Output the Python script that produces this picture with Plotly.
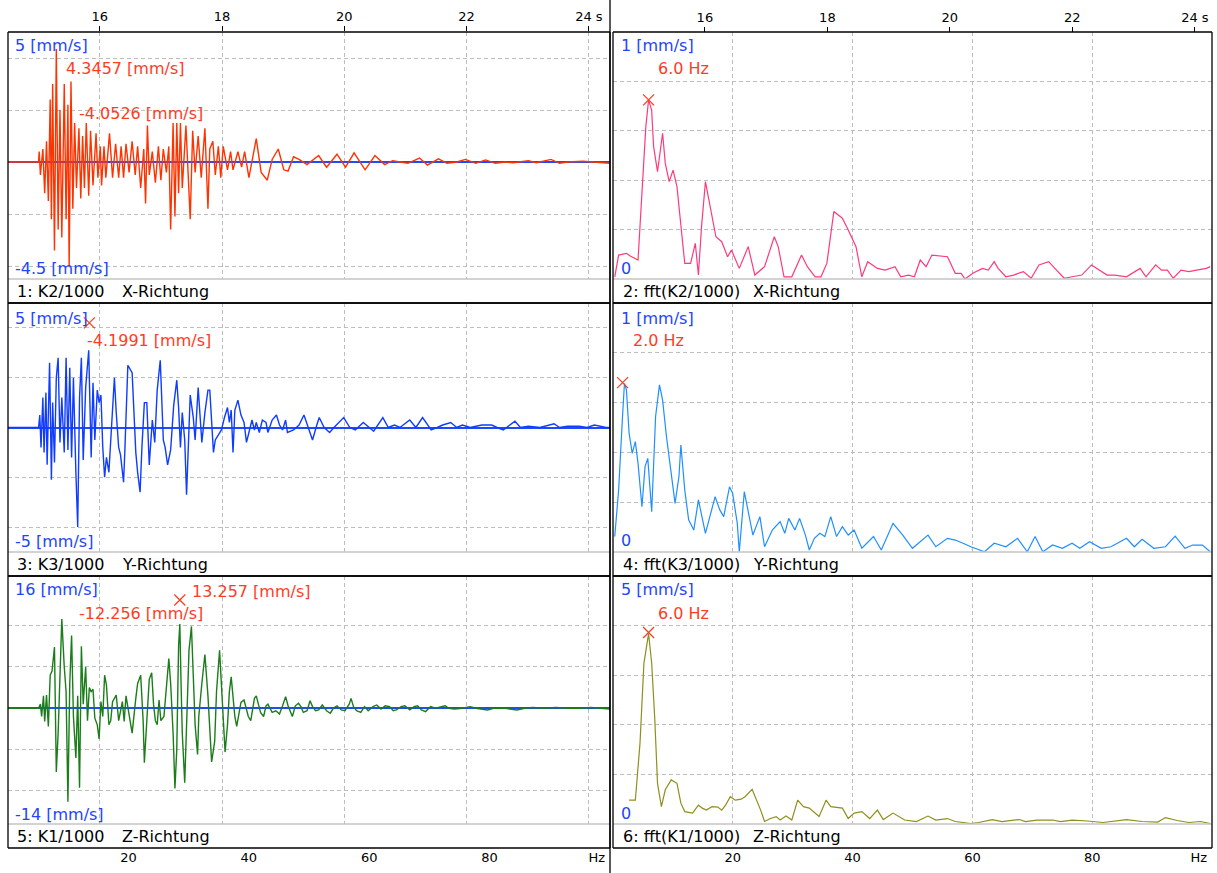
import plotly.graph_objects as go

W, H = 1217, 873
FONT = "DejaVu Sans"

# ---------------- data ----------------
# Panel 1: K2/1000 X-Richtung (time, s ; mm/s)
x_t = [14.50, 15.00, 15.01, 15.03, 15.07, 15.10, 15.13, 15.16, 15.19, 15.21, 15.23, 15.26, 15.29, 15.32,
       15.35, 15.38, 15.42, 15.45, 15.48, 15.50, 15.53, 15.56, 15.59, 15.62, 15.66, 15.69, 15.72, 15.75,
       15.78, 15.82, 15.85, 15.89, 15.94, 15.97, 16.01, 16.03, 16.07, 16.10, 16.16, 16.21, 16.26, 16.31,
       16.35, 16.39, 16.43, 16.48, 16.53, 16.58, 16.62, 16.67, 16.72, 16.75, 16.78, 16.81, 16.86, 16.91,
       16.96, 17.00, 17.04, 17.09, 17.13, 17.16, 17.20, 17.23, 17.26, 17.29, 17.32, 17.35, 17.41, 17.48,
       17.52, 17.56, 17.61, 17.66, 17.72, 17.77, 17.80, 17.85, 17.89, 17.94, 17.98, 18.02, 18.09, 18.14,
       18.18, 18.26, 18.32, 18.37, 18.44, 18.50, 18.56, 18.64, 18.74, 18.82, 18.92, 19.01, 19.08, 19.17,
       19.26, 19.39, 19.58, 19.71, 19.88, 20.02, 20.16, 20.34, 20.50, 20.66, 20.79, 20.91, 21.04, 21.23,
       21.36, 21.54, 21.68, 21.84, 21.98, 22.15, 22.31, 22.47, 22.63, 22.76, 23.01, 23.14, 23.38, 23.52,
       23.65, 23.90, 24.09, 24.28, 24.35]
x_v = [0, 0, 0.4, -0.5, 0.5, -1.2, 0.8, -1.5, 2.4, -2.2, 3.0, -3.4, 4.35, -2.6,
       2.0, -2.9, 3.0, -2.2, 2.2, -4.05, 3.1, -1.8, 1.5, -1.0, 1.3, -1.4, 1.0, -1.0,
       1.5, -1.3, 1.2, -0.9, 1.1, -0.6, 0.6, -0.9, 0.6, -0.6, 1.1, -0.6, 0.7, -0.6,
       0.6, -0.6, 0.7, -0.4, 0.8, -0.5, 0.6, -1.0, 0.5, -1.6, 1.4, -0.5, 0.4, -0.8,
       0.6, -0.7, 0.5, -0.4, 0.6, -2.6, 1.5, -2.1, 1.5, -1.2, 1.5, -1.0, 1.4, -2.2,
       1.2, -0.4, 1.0, -0.6, 1.3, -1.8, 0.5, 0.8, -0.5, 0.6, -0.6, 0.6, -0.3, 0.4,
       -0.3, 0.4, -0.2, 0.4, -0.6, 0.1, 0.9, -0.4, -0.7, 0.1, 0.5, -0.3, -0.35, 0.2,
       0.1, -0.1, 0.25, -0.2, 0.3, -0.2, 0.35, -0.3, 0.25, -0.1, 0.05, 0, -0.05, 0.15,
       -0.12, 0.12, -0.05, 0, 0.1, -0.05, 0.08, -0.05, 0, -0.03, 0.05, -0.03, 0.1, -0.05,
       0, 0.03, 0, -0.05, -0.05]

# Panel 3: K3/1000 Y-Richtung
y_t = [14.50, 15.00, 15.02, 15.04, 15.07, 15.09, 15.12, 15.14, 15.18, 15.21, 15.23,
       15.26, 15.29, 15.32, 15.35, 15.38, 15.42, 15.45, 15.48, 15.51, 15.54,
       15.57, 15.61, 15.64, 15.67, 15.70, 15.73, 15.77, 15.82, 15.86, 15.89,
       15.92, 15.96, 15.99, 16.02, 16.05, 16.08, 16.11, 16.15, 16.20, 16.24,
       16.27, 16.31, 16.34, 16.39, 16.41, 16.46, 16.53, 16.56, 16.59, 16.62,
       16.66, 16.69, 16.73, 16.77, 16.81, 16.86, 16.90, 16.94, 16.99, 17.04,
       17.07, 17.11, 17.16, 17.21, 17.26, 17.29, 17.32, 17.35, 17.39, 17.42,
       17.45, 17.48, 17.53, 17.56, 17.61, 17.64, 17.67, 17.72, 17.77, 17.80,
       17.83, 17.86, 17.89, 17.94, 17.99, 18.04, 18.09, 18.12, 18.15, 18.18,
       18.21, 18.26, 18.31, 18.36, 18.40, 18.43, 18.49, 18.53, 18.56, 18.61,
       18.66, 18.72, 18.75, 18.82, 18.89, 18.94, 18.99, 19.04, 19.07, 19.17,
       19.26, 19.34, 19.42, 19.48, 19.55, 19.59, 19.67, 19.76, 19.83, 19.99,
       20.09, 20.18, 20.31, 20.41, 20.48, 20.63, 20.72, 20.82, 20.91, 21.07,
       21.17, 21.28, 21.42, 21.52, 21.61, 21.74, 21.84, 21.93, 22.06, 22.25,
       22.41, 22.50, 22.60, 22.79, 22.88, 23.01, 23.20, 23.43, 23.52, 23.65,
       23.84, 23.97, 24.09, 24.28, 24.35]
y_v = [0, 0, 0.5, -0.8, 1.2, -1.0, 1.4, -1.5, 2.6, -2.1, 1.0,
       -1.4, 2.0, 2.8, -0.6, 1.2, -1.0, 2.8, -0.9, 2.4, -1.2,
       2.0, -1.8, -4.0, 1.2, 2.8, -1.3, 1.6, 3.1, -1.2, 1.8,
       -0.5, 1.5, 1.0, 1.3, -0.8, -2.0, -1.2, -1.8, 0.6, 2.0,
       0.6, -0.8, -1.1, -2.2, -1.0, 2.5, 2.2, 0.6, -1.0, -1.8,
       -2.6, -0.8, 1.0, 1.0, -1.5, 0.3, -0.6, 1.5, 2.7, -0.5,
       -0.8, -1.5, -0.9, 0.9, 1.9, 0.8, -0.8, 0.6, -0.5, -2.7,
       -0.9, 1.3, 0.4, -0.5, 1.6, 0.4, -0.6, 0.6, 1.5, 1.5,
       0, -1.0, -0.5, -0.3, -0.1, 0.4, 0.8, 0.2, 0.7, -1.0,
       0.7, 1.1, 0.5, 0.2, -0.6, -0.3, 0.3, -0.1, 0.2, -0.2,
       0.3, 0.2, -0.2, 0.3, 0.5, 0.1, -0.1, 0.3, -0.2, -0.1,
       0.1, 0.5, -0.05, -0.5, 0.1, 0.4, 0, -0.2, 0, 0.4,
       0, -0.1, 0.2, 0, -0.15, 0.4, 0, 0.1, 0, 0.3,
       0, 0.4, -0.1, 0, 0.1, 0.2, 0, 0.1, 0, 0.1,
       0.1, 0, -0.1, 0.25, 0, 0.05, 0, 0.15, 0, 0.05,
       0.05, 0, 0.1, 0, 0]

# Panel 5: K1/1000 Z-Richtung
z_t = [14.50, 15.00, 15.03, 15.05, 15.08, 15.10, 15.13, 15.16, 15.19, 15.22, 15.26,
       15.29, 15.32, 15.35, 15.38, 15.42, 15.45, 15.48, 15.51, 15.54, 15.57,
       15.61, 15.64, 15.67, 15.70, 15.73, 15.77, 15.80, 15.83, 15.86, 15.89,
       15.92, 15.96, 15.99, 16.02, 16.05, 16.08, 16.11, 16.15, 16.18, 16.21,
       16.27, 16.31, 16.37, 16.40, 16.43, 16.48, 16.53, 16.59, 16.62, 16.67,
       16.71, 16.73, 16.77, 16.81, 16.85, 16.88, 16.91, 16.94, 16.97, 17.00,
       17.05, 17.09, 17.13, 17.16, 17.20, 17.23, 17.26, 17.29, 17.31, 17.33,
       17.35, 17.39, 17.42, 17.46, 17.50, 17.53, 17.56, 17.60, 17.62, 17.67,
       17.72, 17.77, 17.80, 17.83, 17.88, 17.91, 17.96, 17.99, 18.02, 18.05,
       18.09, 18.12, 18.15, 18.18, 18.21, 18.24, 18.28, 18.31, 18.36, 18.40,
       18.43, 18.47, 18.50, 18.53, 18.56, 18.59, 18.63, 18.68, 18.72, 18.75,
       18.82, 18.88, 18.94, 18.99, 19.04, 19.08, 19.12, 19.15, 19.20, 19.25,
       19.29, 19.33, 19.39, 19.44, 19.48, 19.53, 19.58, 19.64, 19.71, 19.77,
       19.82, 19.88, 19.95, 20.01, 20.08, 20.11, 20.15, 20.20, 20.27, 20.33,
       20.39, 20.47, 20.53, 20.60, 20.67, 20.74, 20.80, 20.85, 20.93, 20.99,
       21.07, 21.14, 21.20, 21.26, 21.33, 21.41, 21.49, 21.58, 21.65, 21.71,
       21.80, 21.93, 22.06, 22.15, 22.34, 22.44, 22.63, 22.82, 22.95, 23.08,
       23.27, 23.46, 23.65, 23.84, 24.03, 24.19, 24.28, 24.35]
z_v = [0, 0, 0.5, -1.0, 1.5, -1.6, 1.6, -2.2, 4.0, 4.5, 7.4,
       -7.7, -3.0, 3.0, 10.8, 5.0, 2.0, -11.3, 3.0, 8.8, -1.0,
       -6.0, 1.5, -9.6, 7.5, 0.5, 5.0, -1.5, 2.5, 2.0, 2.3,
       -1.2, -2.0, -3.7, 0.8, -1.0, 4.0, 2.8, -2.0, -1.5, 0.8,
       1.6, -1.5, 0.8, -1.6, 1.5, -0.8, -3.0, 1.2, 3.0, 4.0,
       -1.5, -6.6, -1.0, 3.5, 4.3, 0.5, -1.5, -2.0, 1.0, -1.5,
       -1.0, 2.5, 6.0, 3.0, -3.0, -9.7, -5.0, 7.6, 10.2, 3.0,
       -3.0, -9.0, -2.0, 7.0, 9.9, 3.0, -2.0, -5.6, -1.0, 3.0,
       6.5, 1.5, -2.5, -6.5, -4.0, 2.0, 7.0, 3.0, -2.0, -5.3,
       -2.0, 2.0, 3.8, 1.0, -1.0, -2.2, -0.5, 0.7, 1.0, 0.0,
       -1.0, -1.5, 0.0, 1.2, 1.5, 0.5, -0.5, -1.0, 0.3, 0.5,
       -0.5, -0.3, -0.7, 0.3, 1.4, 0.3, -0.6, -1.0, 0.3, 0.6,
       0.2, -0.5, -0.3, 0.9, 0.2, -0.3, -0.2, 0.4, -0.3, -0.6,
       0, 0.3, -0.2, -0.3, 0.5, 1.2, 0.2, -0.3, -0.5, 0.2,
       -0.3, 0.2, 0.4, -0.1, 0.3, 0.2, -0.3, -0.2, 0.2, 0.3,
       -0.2, 0.2, 0.3, -0.2, -0.4, 0.2, 0, 0.2, 0.3, 0,
       -0.1, 0, 0.2, 0, -0.2, 0, 0, -0.2, 0, 0.1,
       0, 0.1, 0, 0, 0.1, 0, -0.1, -0.1]

# Panel 2: fft(K2/1000) X-Richtung (Hz ; mm/s)
fx_hz = [0.29, 0.94, 2.24, 2.88, 4.18, 4.83, 5.48, 5.94, 6.45, 6.78, 7.43, 8.28, 8.73, 9.38,
         10.03, 10.68, 11.33, 11.98, 12.95, 13.74, 14.26, 14.78, 15.43, 16.21, 17.18, 18.15,
         19.13, 19.78, 21.08, 22.57, 23.68, 25.30, 26.93, 27.58, 28.55, 29.85, 31.47, 32.45,
         33.75, 34.72, 35.70, 36.87, 38.29, 39.27, 40.57, 41.54, 42.52, 44.14, 45.44, 47.07,
         48.04, 49.34, 50.32, 51.29, 52.27, 53.24, 55.19, 55.84, 57.14, 58.12, 58.77, 60.06,
         61.69, 62.66, 63.64, 64.29, 65.59, 66.89, 68.51, 69.81, 71.11, 72.74, 74.04, 75.34,
         76.64, 78.26, 79.88, 81.18, 82.48, 83.78, 85.73, 88.00, 88.98, 90.60, 91.58, 92.55,
         93.53, 94.83, 96.13, 97.43, 99.05, 99.70]
fx_v = [0.009, 0.097, 0.104, 0.093, 0.077, 0.333, 0.617, 0.725, 0.684, 0.536, 0.435, 0.590, 0.468, 0.394,
        0.441, 0.374, 0.212, 0.063, 0.063, 0.144, 0.016, 0.212, 0.394, 0.293, 0.171, 0.151,
        0.090, 0.117, 0.043, 0.131, 0.016, 0.050, 0.171, 0.131, 0.009, 0.009, 0.097, 0.050,
        0.009, 0.009, 0.063, 0.273, 0.246, 0.198, 0.131, 0.009, 0.070, 0.043, 0.036, 0.050,
        0.009, 0.016, 0.009, 0.077, 0.050, 0.097, 0.090, 0.090, 0.023, 0.023, 0.0, 0.023,
        0.043, 0.036, 0.070, 0.043, 0.009, 0.016, 0.030, 0.003, 0.057, 0.070, 0.036, 0.003,
        0.009, 0.016, 0.057, 0.036, 0.016, 0.016, 0.009, 0.043, 0.009, 0.057, 0.036, 0.036,
        0.003, 0.036, 0.030, 0.036, 0.043, 0.050]

# Panel 4: fft(K3/1000) Y-Richtung
fy_hz = [0.29, 0.94, 1.59, 1.91, 2.24, 2.69, 3.21, 3.73, 4.18, 4.83, 5.35, 5.81, 6.46, 7.11,
         7.76, 8.28, 8.93, 9.71, 10.36, 11.01, 11.33, 11.98, 12.63, 13.48, 14.26, 15.43, 16.21,
         17.05, 17.83, 18.48, 19.45, 19.97, 20.75, 21.08, 21.92, 22.57, 23.35, 24.52, 25.30,
         26.60, 27.90, 28.68, 29.33, 30.37, 31.15, 32.12, 32.77, 33.62, 34.53, 35.37, 36.35,
         37.32, 38.30, 39.27, 40.25, 41.55, 43.49, 44.79, 46.75, 48.37, 49.99, 52.59, 53.89,
         55.84, 57.14, 58.44, 59.74, 62.01, 63.64, 65.59, 67.54, 69.16, 70.46, 71.76, 73.39,
         75.01, 76.64, 77.93, 79.56, 81.51, 83.13, 85.73, 87.03, 88.33, 90.28, 92.23, 93.85,
         95.48, 96.78, 98.40, 99.70]
fy_v = [0.062, 0.249, 0.544, 0.677, 0.651, 0.477, 0.396, 0.443, 0.356, 0.182, 0.343, 0.376, 0.162, 0.544,
        0.671, 0.610, 0.463, 0.303, 0.195, 0.303, 0.430, 0.249, 0.129, 0.088, 0.209, 0.075, 0.142,
        0.222, 0.169, 0.142, 0.262, 0.236, 0.115, 0.001, 0.242, 0.169, 0.068, 0.142, 0.021,
        0.088, 0.122, 0.075, 0.135, 0.088, 0.135, 0.068, 0.008, 0.055, 0.075, 0.062, 0.142,
        0.062, 0.102, 0.068, 0.088, 0.015, 0.062, 0.008, 0.115, 0.068, 0.015, 0.068, 0.021,
        0.055, 0.048, 0.035, 0.021, 0.001, 0.035, 0.021, 0.055, 0.001, 0.062, 0.001, 0.028,
        0.015, 0.035, 0.015, 0.041, 0.015, 0.021, 0.055, 0.021, 0.051, 0.015, 0.021, 0.064,
        0.015, 0.028, 0.028, 0.001]

# Panel 6: fft(K1/1000) Z-Richtung
fz_hz = [2.69, 3.73, 4.51, 5.16, 5.94, 6.46, 6.98, 7.43, 8.08, 8.73, 9.71, 10.68, 11.33, 11.98,
         13.28, 14.26, 14.91, 15.56, 16.53, 17.50, 18.15, 18.80, 19.58, 20.43, 21.40, 22.05,
         23.22, 24.00, 24.65, 25.30, 26.28, 27.25, 27.90, 28.88, 29.85, 30.83, 31.80, 32.77,
         34.40, 35.57, 36.35, 38.30, 39.27, 40.25, 41.55, 42.85, 44.14, 45.12, 46.75, 48.69,
         50.64, 52.59, 53.89, 55.84, 57.14, 59.74, 61.04, 63.31, 64.94, 67.86, 68.84, 70.79,
         73.39, 74.69, 76.64, 79.23, 81.83, 85.73, 88.33, 90.93, 92.23, 94.18, 96.13, 98.08, 99.70]
fz_v = [0.48, 0.48, 1.63, 3.24, 3.84, 3.24, 2.10, 0.82, 0.35, 0.69, 0.89, 0.82, 0.42, 0.25,
        0.22, 0.38, 0.32, 0.28, 0.35, 0.34, 0.28, 0.38, 0.55, 0.48, 0.50, 0.55,
        0.70, 0.48, 0.28, 0.05, 0.11, 0.15, 0.08, 0.16, 0.08, 0.48, 0.35, 0.32,
        0.15, 0.48, 0.35, 0.32, 0.11, 0.22, 0.25, 0.11, 0.28, 0.09, 0.22, 0.08,
        0.05, 0.16, 0.08, 0.11, 0.05, 0.01, 0.03, 0.09, 0.05, 0.09, 0.05, 0.08,
        0.08, 0.05, 0.08, 0.06, 0.03, 0.09, 0.05, 0.04, 0.13, 0.07, 0.03, 0.05, 0.01]

# peak markers
y_mark_t, y_mark_v = [15.83], [4.2]
z_mark_t, z_mark_v = [17.31], [13.1]
fx_mark_hz, fx_mark_v = [5.94], [0.725]
fy_mark_hz, fy_mark_v = [1.6], [0.68]
fz_mark_hz, fz_mark_v = [5.94], [3.86]

# axis settings
time_ticks = [16, 18, 20, 22, 24]
time_ticktext = ["16", "18", "20", "22", "24 s"]
hz_grid = [20, 40, 60, 80]
hz_ticks = [20, 40, 60, 80, 97.8]
hz_ticktext = ["20", "40", "60", "80", "Hz"]

# ---------------- layout geometry ----------------
COLS = {"L": (8, 610), "R": (613, 1212)}
ROWS = [(32, 279, 303), (303, 552, 576), (576, 824, 848)]


def xd(a, b):
    return [a / W, b / W]


def yd(top, bot):
    return [1 - bot / H, 1 - top / H]


fig = go.Figure()

RED = "#ff3c1e"
BLUE_TXT = "#2244ff"
ZERO_BLUE = "#1e4bff"
GRID = "#bdbdbd"

trace_specs = [
    (1, x_t, x_v, "#ff3300", 1.4),
    (3, y_t, y_v, "#0f3cff", 1.4),
    (5, z_t, z_v, "#1a7d1a", 1.4),
    (2, fx_hz, fx_v, "#ff3a78", 1.2),
    (4, fy_hz, fy_v, "#1f8fff", 1.2),
    (6, fz_hz, fz_v, "#8f8f1f", 1.2),
]
for n, xs, ys, col, w in trace_specs:
    sfx = "" if n == 1 else str(n)
    fig.add_trace(go.Scatter(x=xs, y=ys, mode="lines", line=dict(color=col, width=w),
                             xaxis="x" + sfx, yaxis="y" + sfx, showlegend=False, hoverinfo="skip"))

for n, xs, ys in [(3, y_mark_t, y_mark_v), (5, z_mark_t, z_mark_v), (2, fx_mark_hz, fx_mark_v),
                  (4, fy_mark_hz, fy_mark_v), (6, fz_mark_hz, fz_mark_v)]:
    fig.add_trace(go.Scatter(x=xs, y=ys, mode="markers",
                             marker=dict(symbol="x-thin", size=11, line=dict(color=RED, width=1.2)),
                             xaxis="x" + str(n), yaxis="y" + str(n), showlegend=False, hoverinfo="skip"))

# helper traces for extra label axes
for xa, ya in [("x7", "y5"), ("x8", "y2"), ("x9", "y6")]:
    fig.add_trace(go.Scatter(x=[None], y=[None], xaxis=xa, yaxis=ya, showlegend=False, hoverinfo="skip"))

yranges = {1: [-4.5, 5], 3: [-5, 5], 5: [-14, 16], 2: [0, 1], 4: [0, 1], 6: [0, 5]}
ygrid = {1: [-4, -2, 0, 2, 4], 3: [-4, -2, 0, 2, 4], 5: [-10, -5, 0, 5, 10],
         2: [0.2, 0.4, 0.6, 0.8], 4: [0.2, 0.4, 0.6, 0.8], 6: [1, 2, 3, 4]}

layout = dict(width=W, height=H, margin=dict(l=0, r=0, t=0, b=0), autosize=False,
              paper_bgcolor="white", plot_bgcolor="white", showlegend=False,
              font=dict(family=FONT, size=13, color="black"))

tick_font = dict(family=FONT, size=13, color="black")

for n in range(1, 7):
    col = "L" if n % 2 == 1 else "R"
    r = (n - 1) // 2
    top, bot, sbot = ROWS[r]
    key = "" if n == 1 else str(n)
    is_time = col == "L"
    xa = dict(domain=xd(*COLS[col]), anchor="y" + key,
              range=[14.5, 24.345] if is_time else [0, 100],
              tickvals=time_ticks if is_time else hz_grid,
              showgrid=True, gridcolor=GRID, gridwidth=1, griddash="4px,3px",
              showticklabels=False, ticks="", zeroline=False, showline=False, fixedrange=True)
    if n == 1:
        xa.update(side="top", showticklabels=True, ticktext=time_ticktext, ticks="outside",
                  ticklen=5, tickcolor="black", tickwidth=1, tickfont=tick_font)
    ya = dict(domain=yd(top, bot), anchor="x" + key, range=yranges[n], tickvals=ygrid[n],
              showgrid=True, gridcolor=GRID, gridwidth=1, griddash="4px,3px",
              showticklabels=False, ticks="", showline=False, fixedrange=True,
              zeroline=is_time, zerolinecolor=ZERO_BLUE, zerolinewidth=1.5)
    layout["xaxis" + key] = xa
    layout["yaxis" + key] = ya

layout["xaxis7"] = dict(overlaying="x5", anchor="free", position=1 - 848 / H, domain=xd(*COLS["L"]),
                        range=[0, 100], tickvals=hz_ticks, ticktext=hz_ticktext, showgrid=False,
                        zeroline=False, showline=False, ticks="", tickfont=tick_font, side="bottom")
layout["xaxis8"] = dict(overlaying="x2", anchor="free", position=1 - 32 / H, domain=xd(*COLS["R"]),
                        range=[14.5, 24.28], tickvals=time_ticks, ticktext=time_ticktext, showgrid=False,
                        zeroline=False, showline=False, ticks="outside", ticklen=5, tickcolor="black",
                        tickfont=tick_font, side="top")
layout["xaxis9"] = dict(overlaying="x6", anchor="free", position=1 - 848 / H, domain=xd(*COLS["R"]),
                        range=[0, 100], tickvals=hz_ticks, ticktext=hz_ticktext, showgrid=False,
                        zeroline=False, showline=False, ticks="", tickfont=tick_font, side="bottom")

shapes = []


def pline(x0, y0, x1, y1, color="black", width=1.3):
    shapes.append(dict(type="line", xref="paper", yref="paper", x0=x0 / W, x1=x1 / W,
                       y0=1 - y0 / H, y1=1 - y1 / H, line=dict(color=color, width=width), layer="above"))


for c in ("L", "R"):
    a, b = COLS[c]
    for top, bot, sbot in ROWS:
        pline(a, bot, b, bot, color="#c4c4c4", width=1.5)
        pline(a, top, b, top)
        pline(a, sbot, b, sbot)
        pline(a, top, a, sbot)
        pline(b, top, b, sbot)
pline(610, 0, 610, H)
layout["shapes"] = shapes

annotations = []


def ann(text, x, y, color, size=16):
    annotations.append(dict(text=text, x=x / W, y=1 - y / H, xref="paper", yref="paper",
                            xanchor="left", yanchor="middle", showarrow=False,
                            font=dict(family=FONT, size=size, color=color), borderpad=0))


# blue range labels
ann("5 [mm/s]", 14, 45, BLUE_TXT)
ann("-4.5 [mm/s]", 14, 268, BLUE_TXT)
ann("5 [mm/s]", 14, 318, BLUE_TXT)
ann("-5 [mm/s]", 14, 541, BLUE_TXT)
ann("16 [mm/s]", 14, 589, BLUE_TXT)
ann("-14 [mm/s]", 14, 814, BLUE_TXT)
ann("1 [mm/s]", 620, 45, BLUE_TXT)
ann("0", 620, 268, BLUE_TXT)
ann("1 [mm/s]", 620, 318, BLUE_TXT)
ann("0", 620, 540, BLUE_TXT)
ann("5 [mm/s]", 620, 589, BLUE_TXT)
ann("0", 620, 813, BLUE_TXT)

# red value labels
ann("4.3457 [mm/s]", 65, 69, RED)
ann("-4.0526 [mm/s]", 78, 114, RED)
ann("-4.1991 [mm/s]", 86, 341, RED)
ann("13.257 [mm/s]", 191, 591, RED)
ann("-12.256 [mm/s]", 78, 613, RED)
ann("6.0 Hz", 657, 69, RED)
ann("2.0 Hz", 632, 341, RED)
ann("6.0 Hz", 657, 613, RED)

# strip labels
strip = [("1: K2/1000", "X-Richtung", 8, 292), ("3: K3/1000", "Y-Richtung", 8, 564),
         ("5: K1/1000", "Z-Richtung", 8, 836)]
for a, b, x0, y in strip:
    ann(a, 16, y, "black")
    ann(b, 121, y, "black")
strip_r = [("2: fft(K2/1000)", "X-Richtung", 292), ("4: fft(K3/1000)", "Y-Richtung", 564),
           ("6: fft(K1/1000)", "Z-Richtung", 836)]
for a, b, y in strip_r:
    ann(a, 622, y, "black")
    ann(b, 752, y, "black")

layout["annotations"] = annotations
fig.update_layout(**layout)
fig.write_html("out.html")
